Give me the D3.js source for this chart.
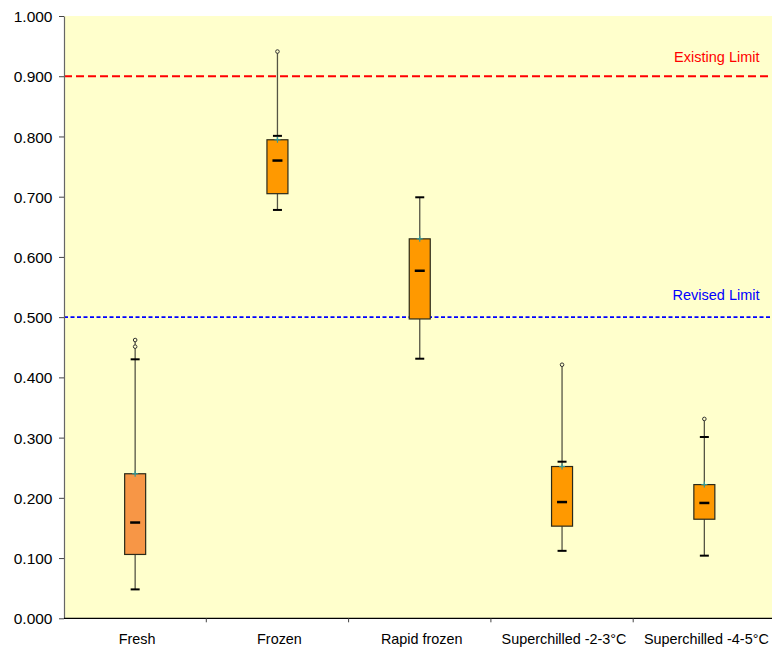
<!DOCTYPE html>
<html><head><meta charset="utf-8">
<script src="https://cdn.jsdelivr.net/npm/d3@7"></script>
<style>body{margin:0;background:#fff;}svg{display:block;font-family:"Liberation Sans",Arial,sans-serif;}</style>
</head><body>
<svg id="c" width="772" height="651"></svg>
<script>
const categories = ["Fresh","Frozen","Rapid frozen","Superchilled -2-3°C","Superchilled -4-5°C"];
const whiskerLow = [0.048, 0.678, 0.431, 0.112, 0.104];
const q1 = [0.106, 0.705, 0.497, 0.153, 0.1645];
const median = [0.159, 0.760, 0.577, 0.193, 0.1915];
const q3 = [0.240, 0.7945, 0.630, 0.252, 0.222];
const whiskerHigh = [0.430, 0.801, 0.699, 0.260, 0.301];
const outliers = [[0.451, 0.462], [0.941], [], [0.421], [0.331]];
const boxColors = ["#F79646", "#FF9900", "#FF9900", "#FF9900", "#FF9900"];
const yTicks = [0,0.1,0.2,0.3,0.4,0.5,0.6,0.7,0.8,0.9,1.0];
const limits = [{name:"Existing Limit", value:0.9, color:"#FF0000"},{name:"Revised Limit", value:0.5, color:"#0000FF"}];

(function(){
const svg = d3.select("#c");
const pLeft = 64, pRight = 775.5, pTop = 16, pBottom = 618.3;
const y = d3.scaleLinear().domain([0,1]).range([pBottom, pTop]);
const x = d3.scaleBand().domain(categories).range([pLeft, pRight]);

svg.append("rect").attr("x", pLeft).attr("y", pTop).attr("width", pRight-pLeft).attr("height", pBottom-pTop).attr("fill", "#FFFFCC");

// limit lines
limits.forEach(l => {
  const isEx = l.value === 0.9;
  svg.append("line").attr("x1", pLeft).attr("x2", 772).attr("y1", y(l.value)).attr("y2", y(l.value))
    .attr("stroke", l.color).attr("stroke-width", isEx?2:1.6).attr("stroke-dasharray", isEx?"8,4":"4,2.5");
  svg.append("text").attr("x", 759.5).attr("y", y(l.value) - (isEx?14:17)).attr("text-anchor","end")
    .attr("fill", l.color).attr("font-size", 14.5).text(l.name);
});

// axes
const yAxis = d3.axisLeft(y).tickValues(yTicks).tickFormat(d3.format(".3f")).tickSize(5).tickSizeOuter(0);
const gy = svg.append("g").attr("transform", `translate(${pLeft},0)`).call(yAxis);
gy.attr("font-size", null).attr("font-family", null);
gy.select(".domain").attr("stroke", "#666").attr("stroke-width", 1.2);
gy.selectAll(".tick line").attr("stroke", "#444");
gy.selectAll(".tick text").style("font-size", "15.5px").attr("fill", "#000").attr("x", -11.5).attr("dy", "0.36em");

const gx = svg.append("g").attr("transform", `translate(0,${pBottom})`);
gx.append("line").attr("x1", pLeft).attr("x2", 772).attr("y1", 0).attr("y2", 0).attr("stroke", "#000").attr("stroke-width", 1.2);
categories.forEach((c,i) => {
  if (i>0) gx.append("line").attr("x1", x(c)).attr("x2", x(c)).attr("y1", 0).attr("y2", 4).attr("stroke", "#444");
  gx.append("text").attr("x", x(c)+x.bandwidth()/2 + 2).attr("y", 26).attr("text-anchor","middle")
    .style("font-size", "14.4px").attr("fill","#000").text(c);
});

// boxes
const bw = 21, capW = 9, medW = 10;
categories.forEach((c,i) => {
  const cx = x(c) + x.bandwidth()/2;
  const g = svg.append("g");
  const topVal = Math.max(whiskerHigh[i], ...outliers[i]);
  g.append("line").attr("x1", cx).attr("x2", cx).attr("y1", y(topVal)).attr("y2", y(q3[i]))
    .attr("stroke", "#555544").attr("stroke-width", 1.3);
  g.append("line").attr("x1", cx).attr("x2", cx).attr("y1", y(q1[i])).attr("y2", y(whiskerLow[i]))
    .attr("stroke", "#555544").attr("stroke-width", 1.3);
  g.append("line").attr("x1", cx-capW/2).attr("x2", cx+capW/2).attr("y1", y(whiskerHigh[i])).attr("y2", y(whiskerHigh[i]))
    .attr("stroke", "#000").attr("stroke-width", 2);
  g.append("line").attr("x1", cx-capW/2).attr("x2", cx+capW/2).attr("y1", y(whiskerLow[i])).attr("y2", y(whiskerLow[i]))
    .attr("stroke", "#000").attr("stroke-width", 2);
  g.append("rect").attr("x", cx-bw/2).attr("y", y(q3[i])).attr("width", bw).attr("height", y(q1[i])-y(q3[i]))
    .attr("fill", boxColors[i]).attr("stroke", "#2a2a1a").attr("stroke-width", 1.2);
  g.append("line").attr("x1", cx-medW/2).attr("x2", cx+medW/2).attr("y1", y(median[i])).attr("y2", y(median[i]))
    .attr("stroke", "#000").attr("stroke-width", 2.5);
  g.append("line").attr("x1", cx-3).attr("x2", cx+3).attr("y1", y(q3[i])).attr("y2", y(q3[i]))
    .attr("stroke", "#339999").attr("stroke-width", 1.2);
  g.append("line").attr("x1", cx).attr("x2", cx).attr("y1", y(q3[i])-3).attr("y2", y(q3[i])+3)
    .attr("stroke", "#339999").attr("stroke-width", 1.2);
  outliers[i].forEach(o => {
    g.append("circle").attr("cx", cx).attr("cy", y(o)).attr("r", 1.8).attr("fill", "#FFFFCC").attr("stroke", "#333").attr("stroke-width", 1);
  });
});
})();
</script>
</body></html>
